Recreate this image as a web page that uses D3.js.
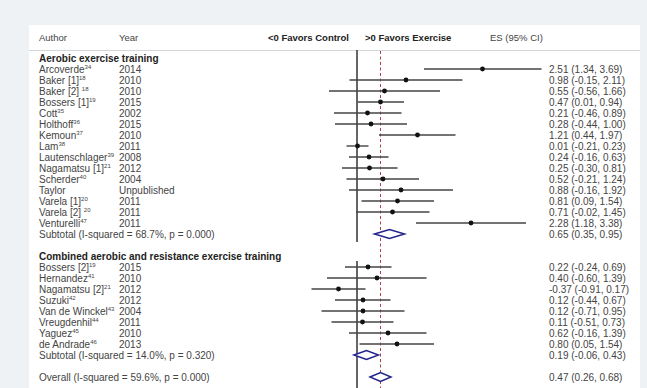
<!DOCTYPE html>
<html><head><meta charset="utf-8">
<script src="https://cdn.jsdelivr.net/npm/d3@7"></script>
<style>
html,body{margin:0;padding:0;background:#eef2f5;}
svg{display:block;font-family:"Liberation Sans",Arial,sans-serif;}
</style></head>
<body><svg id="c" width="647" height="388"></svg>
<script>
// ---- data ----
const headers = ["Author", "Year", "<0 Favors Control", ">0 Favors Exercise", "ES (95% CI)"];
const groupTitles = ["Aerobic exercise training", "Combined aerobic and resistance exercise training"];
const aerobicAuthors = ["Arcoverde","Baker [1]","Baker [2] ","Bossers [1]","Cott","Holthoff","Kemoun","Lam","Lautenschlager","Nagamatsu [1]","Scherder","Taylor","Varela [1]","Varela [2] ","Venturelli"];
const aerobicRefs = ["34","18","18","19","35","36","37","38","39","21","40","","20","20","47"];
const aerobicYears = ["2014","2010","2010","2015","2002","2015","2010","2011","2008","2012","2004","Unpublished","2011","2011","2011"];
const aerobicES = [2.51,0.98,0.55,0.47,0.21,0.28,1.21,0.01,0.24,0.25,0.52,0.88,0.81,0.71,2.28];
const aerobicLo = [1.34,-0.15,-0.56,0.01,-0.46,-0.44,0.44,-0.21,-0.16,-0.30,-0.21,-0.16,0.09,-0.02,1.18];
const aerobicHi = [3.69,2.11,1.66,0.94,0.89,1.00,1.97,0.23,0.63,0.81,1.24,1.92,1.54,1.45,3.38];
const combinedAuthors = ["Bossers [2]","Hernandez","Nagamatsu [2]","Suzuki","Van de Winckel","Vreugdenhil","Yaguez","de Andrade"];
const combinedRefs = ["19","41","21","42","43","44","45","46"];
const combinedYears = ["2015","2010","2012","2012","2004","2011","2010","2013"];
const combinedES = [0.22,0.40,-0.37,0.12,0.12,0.11,0.62,0.80];
const combinedLo = [-0.24,-0.60,-0.91,-0.44,-0.71,-0.51,-0.16,0.05];
const combinedHi = [0.69,1.39,0.17,0.67,0.95,0.73,1.39,1.54];
const summaryLabels = ["Subtotal  (I-squared = 68.7%, p = 0.000)", "Subtotal  (I-squared = 14.0%, p = 0.320)", "Overall  (I-squared = 59.6%, p = 0.000)"];
const summaryES = [0.65, 0.19, 0.47];
const summaryLo = [0.35, -0.06, 0.26];
const summaryHi = [0.95, 0.43, 0.68];

// ---- build rows ----
const f2 = d3.format(".2f");
const fmt = v => f2(v).replace("\u2212", "-");
const rows = [];
let r = 0;
rows.push({row: r++, type: "title", label: groupTitles[0]});
aerobicAuthors.forEach((a, i) => rows.push({row: r++, type: "study", label: a, ref: aerobicRefs[i], year: aerobicYears[i], es: aerobicES[i], lo: aerobicLo[i], hi: aerobicHi[i]}));
rows.push({row: r++, type: "summary", label: summaryLabels[0], es: summaryES[0], lo: summaryLo[0], hi: summaryHi[0]});
r++;
rows.push({row: r++, type: "title", label: groupTitles[1]});
combinedAuthors.forEach((a, i) => rows.push({row: r++, type: "study", label: a, ref: combinedRefs[i], year: combinedYears[i], es: combinedES[i], lo: combinedLo[i], hi: combinedHi[i]}));
rows.push({row: r++, type: "summary", label: summaryLabels[1], es: summaryES[1], lo: summaryLo[1], hi: summaryHi[1]});
r++;
rows.push({row: r++, type: "summary", label: summaryLabels[2], es: summaryES[2], lo: summaryLo[2], hi: summaryHi[2]});

const svg = d3.select("#c");
const W = 647, H = 388;
const x = d3.scaleLinear().domain([0, 1]).range([357, 407]);
const y = d3.scaleLinear().domain([0, 29]).range([58, 377]);

// panel
svg.append("rect").attr("x", 29).attr("y", 25).attr("width", 611).attr("height", H - 25).attr("fill", "#ffffff");
svg.append("line").attr("x1", 29).attr("x2", 640).attr("y1", 50.5).attr("y2", 50.5).attr("stroke", "#d3d7db").attr("stroke-width", 1);

const textCol = "#444";
const hdr = svg.append("g").attr("font-size", 9.5).attr("fill", textCol);
const hx = [39, 119, 349, 365, 490];
const hAnchor = ["start", "start", "end", "start", "start"];
const hWeight = ["normal", "normal", "bold", "bold", "normal"];
headers.forEach((h, i) => hdr.append("text").attr("x", hx[i]).attr("y", 41).attr("text-anchor", hAnchor[i]).attr("font-weight", hWeight[i]).attr("fill", hWeight[i] === "bold" ? "#222" : textCol).text(h));

// reference lines
const zeroSegs = [[50, y(16) + 8], [y(18) + 5, H]];
zeroSegs.forEach(s => svg.append("line").attr("x1", x(0)).attr("x2", x(0)).attr("y1", s[0]).attr("y2", s[1]).attr("stroke", "#333").attr("stroke-width", 1.5));
svg.append("line").attr("x1", x(summaryES[2])).attr("x2", x(summaryES[2])).attr("y1", 51).attr("y2", H)
  .attr("stroke", "#b0404e").attr("stroke-width", 1).attr("stroke-dasharray", "3,2.5");

// text columns
const g = svg.append("g").attr("font-size", 10).attr("fill", textCol);
rows.forEach(d => {
  const ty = y(d.row) + 3.5;
  if (d.type === "title") {
    g.append("text").attr("x", 39).attr("y", ty).attr("font-weight", "bold").attr("fill", "#222").text(d.label);
  } else {
    const t = g.append("text").attr("x", 39).attr("y", ty);
    t.append("tspan").text(d.label);
    if (d.ref) t.append("tspan").attr("dy", -3.5).attr("font-size", 6).text(d.ref);
    if (d.year) g.append("text").attr("x", 119).attr("y", ty).text(d.year);
    g.append("text").attr("x", 549).attr("y", ty).text(`${fmt(d.es)} (${fmt(d.lo)}, ${fmt(d.hi)})`);
  }
});

// study CIs and points
const studies = rows.filter(d => d.type === "study");
svg.append("g").selectAll("line").data(studies).join("line")
  .attr("x1", d => x(d.lo)).attr("x2", d => x(d.hi)).attr("y1", d => y(d.row)).attr("y2", d => y(d.row))
  .attr("stroke", "#444").attr("stroke-width", 1.4);
svg.append("g").selectAll("circle").data(studies).join("circle")
  .attr("cx", d => x(d.es)).attr("cy", d => y(d.row)).attr("r", 2.4).attr("fill", "#111");

// diamonds
const sums = rows.filter(d => d.type === "summary");
svg.append("g").selectAll("path").data(sums).join("path")
  .attr("d", d => {
    const cy = y(d.row), h = 4.5;
    return `M${x(d.lo)},${cy}L${x(d.es)},${cy - h}L${x(d.hi)},${cy}L${x(d.es)},${cy + h}Z`;
  })
  .attr("fill", "#fff").attr("stroke", "#23238a").attr("stroke-width", 1.5);
</script></body></html>
